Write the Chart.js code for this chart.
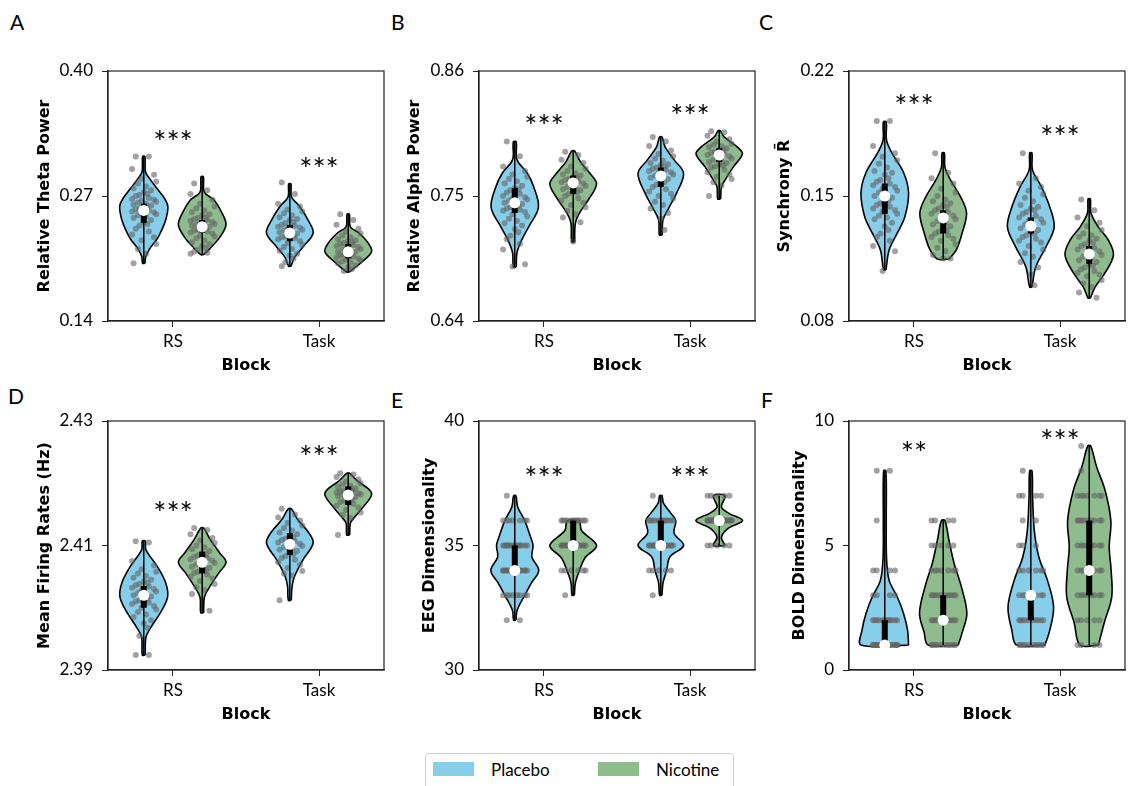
<!DOCTYPE html>
<html>
<head>
<meta charset="utf-8">
<script src="https://cdn.jsdelivr.net/npm/chart.js@4.4.1/dist/chart.umd.min.js"></script>
<style>
  body { margin: 0; background: #fff; }
  #wrap { position: relative; width: 1128px; height: 786px; overflow: hidden; font-family: Lato, "DejaVu Sans", sans-serif; color: #000; }
  canvas { position: absolute; }
  .tag { position: absolute; font-size: 21px; line-height: 1; }
  .patch { position: absolute; width: 41px; height: 14px; }
  .ltxt { position: absolute; font-size: 17px; line-height: 1; }
  #legend { position: absolute; left: 425px; top: 753px; width: 307px; height: 50px; border: 1px solid #d0d0d0; border-radius: 4px; }
</style>
</head>
<body>
<div id="wrap">
  <div class="tag" style="left:10px;top:11px">A</div>
  <div class="tag" style="left:391px;top:11px">B</div>
  <div class="tag" style="left:759px;top:11px">C</div>
  <div class="tag" style="left:8px;top:385px">D</div>
  <div class="tag" style="left:391px;top:389px">E</div>
  <div class="tag" style="left:761px;top:389px">F</div>
  <div id="legend"></div>
  <div class="patch" style="left:433px;top:762px;background:#87CEEB"></div>
  <div class="ltxt" style="left:491px;top:761px">Placebo</div>
  <div class="patch" style="left:598px;top:762px;background:#8FBC8F"></div>
  <div class="ltxt" style="left:656px;top:761px">Nicotine</div>
</div>
<script>
// ---- data ----
const categories = ['RS', 'Task'];
const groups = ['Placebo', 'Nicotine'];

// A: relative theta power
const thetaTicks = [0.14, 0.27, 0.40];
const thetaTickLabels = ['0.14', '0.27', '0.40'];
const thetaRsPlacebo = [0.311,0.311,0.298,0.292,0.288,0.285,0.283,0.280,0.278,0.276,0.274,0.272,0.271,0.270,0.268,0.267,0.266,0.265,0.264,0.263,0.262,0.261,0.260,0.259,0.258,0.257,0.256,0.255,0.254,0.253,0.252,0.251,0.250,0.249,0.247,0.245,0.243,0.241,0.239,0.236,0.233,0.230,0.227,0.224,0.220,0.215,0.210,0.200];
const thetaRsNicotine = [0.283,0.276,0.272,0.266,0.262,0.259,0.257,0.255,0.253,0.251,0.250,0.248,0.247,0.246,0.245,0.244,0.243,0.242,0.241,0.240,0.240,0.239,0.238,0.237,0.236,0.235,0.234,0.233,0.232,0.231,0.229,0.228,0.226,0.224,0.222,0.220,0.218,0.216,0.214,0.212,0.211,0.210];
const thetaTaskPlacebo = [0.284,0.272,0.262,0.259,0.256,0.254,0.252,0.250,0.248,0.246,0.245,0.243,0.242,0.240,0.239,0.238,0.237,0.236,0.235,0.234,0.233,0.232,0.231,0.230,0.229,0.228,0.227,0.226,0.225,0.223,0.221,0.219,0.217,0.215,0.213,0.210,0.208,0.205,0.201,0.197];
const thetaTaskNicotine = [0.251,0.245,0.240,0.236,0.233,0.231,0.229,0.227,0.225,0.224,0.223,0.222,0.221,0.220,0.219,0.218,0.217,0.216,0.215,0.214,0.213,0.212,0.212,0.211,0.210,0.209,0.208,0.207,0.206,0.205,0.204,0.203,0.202,0.201,0.200,0.198,0.196,0.194,0.192];
const thetaShapes = [
  [[0.200,0.008],[0.207,0.014],[0.215,0.04],[0.225,0.09],[0.232,0.115],[0.245,0.15],[0.259,0.165],[0.268,0.14],[0.277,0.095],[0.287,0.045],[0.295,0.012],[0.311,0.008]],
  [[0.209,0.01],[0.216,0.057],[0.227,0.12],[0.240,0.163],[0.252,0.137],[0.266,0.08],[0.274,0.015],[0.290,0.008]],
  [[0.197,0.008],[0.2065,0.034],[0.217,0.09],[0.2315,0.16],[0.245,0.125],[0.259,0.068],[0.269,0.012],[0.2825,0.008]],
  [[0.191,0.01],[0.201,0.09],[0.212,0.16],[0.221,0.137],[0.2315,0.074],[0.238,0.015],[0.251,0.008]]
];
const thetaBoxes = [[0.200,0.242,0.255,0.262,0.311],[0.209,0.232,0.238,0.245,0.290],[0.197,0.223,0.2315,0.240,0.2825],[0.191,0.205,0.212,0.220,0.251]];
const thetaStars = [0.332, 0.304];
const thetaStarText = ['***', '***'];

// B: relative alpha power
const alphaTicks = [0.64, 0.75, 0.86];
const alphaTickLabels = ['0.64', '0.75', '0.86'];
const alphaRsPlacebo = [0.798,0.785,0.776,0.772,0.769,0.767,0.765,0.763,0.761,0.759,0.757,0.756,0.755,0.753,0.752,0.750,0.749,0.748,0.747,0.746,0.745,0.744,0.743,0.742,0.741,0.740,0.739,0.738,0.737,0.736,0.734,0.732,0.730,0.728,0.726,0.724,0.721,0.718,0.715,0.712,0.708,0.703,0.690,0.688];
const alphaRsNicotine = [0.789,0.786,0.782,0.779,0.776,0.774,0.772,0.770,0.769,0.768,0.767,0.766,0.765,0.764,0.763,0.762,0.761,0.760,0.759,0.758,0.757,0.756,0.755,0.754,0.753,0.752,0.750,0.748,0.746,0.744,0.742,0.740,0.737,0.734,0.731,0.727,0.710];
const alphaTaskPlacebo = [0.802,0.798,0.794,0.790,0.787,0.785,0.783,0.781,0.779,0.778,0.777,0.776,0.775,0.774,0.773,0.772,0.771,0.770,0.769,0.768,0.767,0.766,0.765,0.764,0.762,0.760,0.758,0.756,0.754,0.752,0.750,0.748,0.745,0.742,0.739,0.735,0.730,0.720];
const alphaTaskNicotine = [0.807,0.806,0.803,0.800,0.798,0.796,0.795,0.794,0.793,0.792,0.791,0.790,0.789,0.788,0.787,0.786,0.785,0.784,0.783,0.782,0.781,0.780,0.779,0.778,0.777,0.776,0.775,0.773,0.771,0.769,0.767,0.765,0.762,0.759,0.750];
const alphaShapes = [
  [[0.6875,0.01],[0.700,0.015],[0.711,0.046],[0.723,0.096],[0.740,0.162],[0.758,0.13],[0.770,0.086],[0.782,0.015],[0.7976,0.01]],
  [[0.7096,0.01],[0.726,0.015],[0.735,0.043],[0.7465,0.103],[0.7606,0.16],[0.770,0.114],[0.780,0.05],[0.7896,0.01]],
  [[0.7157,0.01],[0.729,0.015],[0.740,0.057],[0.7525,0.108],[0.770,0.156],[0.782,0.09],[0.793,0.03],[0.802,0.008]],
  [[0.7474,0.01],[0.758,0.015],[0.764,0.04],[0.7756,0.097],[0.787,0.159],[0.793,0.125],[0.802,0.034],[0.8073,0.008]]
];
const alphaBoxes = [[0.6875,0.735,0.744,0.757,0.7976],[0.7096,0.752,0.7615,0.768,0.7896],[0.7157,0.758,0.7676,0.775,0.802],[0.7474,0.780,0.786,0.792,0.8073]];
const alphaStars = [0.817, 0.826];
const alphaStarText = ['***', '***'];

// C: synchrony
const syncTicks = [0.08, 0.15, 0.22];
const syncTickLabels = ['0.08', '0.15', '0.22'];
const syncRsPlacebo = [0.192,0.192,0.178,0.174,0.172,0.170,0.168,0.166,0.164,0.163,0.162,0.160,0.159,0.158,0.157,0.156,0.155,0.154,0.153,0.152,0.151,0.150,0.149,0.148,0.147,0.146,0.145,0.144,0.143,0.142,0.141,0.140,0.139,0.138,0.137,0.135,0.133,0.131,0.129,0.127,0.125,0.122,0.119,0.108];
const syncRsNicotine = [0.174,0.163,0.160,0.157,0.154,0.152,0.150,0.148,0.147,0.146,0.145,0.144,0.143,0.142,0.141,0.140,0.139,0.138,0.137,0.136,0.135,0.134,0.133,0.132,0.131,0.130,0.129,0.128,0.127,0.126,0.125,0.123,0.121,0.119,0.117,0.115,0.115];
const syncTaskPlacebo = [0.174,0.160,0.157,0.155,0.153,0.151,0.149,0.147,0.145,0.144,0.143,0.142,0.141,0.140,0.139,0.138,0.137,0.136,0.135,0.134,0.133,0.132,0.131,0.130,0.129,0.128,0.127,0.126,0.125,0.124,0.122,0.120,0.118,0.116,0.113,0.110,0.106,0.100];
const syncTaskNicotine = [0.148,0.142,0.138,0.135,0.133,0.131,0.129,0.128,0.127,0.126,0.125,0.124,0.123,0.122,0.121,0.120,0.119,0.118,0.117,0.116,0.115,0.114,0.113,0.112,0.111,0.110,0.109,0.108,0.107,0.106,0.105,0.103,0.101,0.099,0.096,0.093];
const syncShapes = [
  [[0.1086,0.008],[0.1198,0.03],[0.1293,0.086],[0.1382,0.137],[0.1517,0.163],[0.1629,0.13],[0.174,0.05],[0.1813,0.012],[0.1914,0.01]],
  [[0.1147,0.04],[0.1198,0.09],[0.1293,0.13],[0.1405,0.16],[0.1494,0.12],[0.159,0.05],[0.1662,0.012],[0.174,0.008]],
  [[0.099,0.008],[0.1102,0.034],[0.1214,0.103],[0.1326,0.16],[0.1438,0.13],[0.155,0.074],[0.1645,0.012],[0.174,0.008]],
  [[0.0929,0.008],[0.099,0.04],[0.1069,0.108],[0.117,0.166],[0.1254,0.13],[0.1326,0.063],[0.1405,0.012],[0.1483,0.008]]
];
const syncBoxes = [[0.1086,0.140,0.150,0.157,0.1914],[0.1147,0.129,0.1377,0.142,0.174],[0.099,0.129,0.1332,0.138,0.174],[0.0929,0.112,0.1175,0.122,0.1483]];
const syncStars = [0.2037, 0.1864];
const syncStarText = ['***', '***'];

// D: mean firing rates
const rateTicks = [2.39, 2.41, 2.43];
const rateTickLabels = ['2.39', '2.41', '2.43'];
const rateRsPlacebo = [2.4107,2.4105,2.4075,2.4068,2.4062,2.4058,2.4055,2.4051,2.4048,2.4045,2.4042,2.4040,2.4038,2.4036,2.4034,2.4032,2.4030,2.4028,2.4026,2.4024,2.4022,2.4020,2.4018,2.4016,2.4014,2.4012,2.4010,2.4008,2.4006,2.4003,2.4000,2.3997,2.3993,2.3989,2.3985,2.3980,2.3975,2.3968,2.3955,2.3924,2.3924];
const rateRsNicotine = [2.4128,2.4125,2.4118,2.4112,2.4108,2.4104,2.4100,2.4097,2.4094,2.4091,2.4088,2.4086,2.4084,2.4082,2.4080,2.4078,2.4076,2.4074,2.4072,2.4070,2.4068,2.4066,2.4064,2.4062,2.4060,2.4058,2.4056,2.4053,2.4050,2.4047,2.4043,2.4038,2.4033,2.4028,2.4022,2.3995];
const rateTaskPlacebo = [2.4159,2.4150,2.4145,2.4140,2.4136,2.4132,2.4128,2.4124,2.4121,2.4118,2.4115,2.4113,2.4111,2.4109,2.4107,2.4105,2.4103,2.4101,2.4099,2.4097,2.4095,2.4093,2.4091,2.4089,2.4086,2.4083,2.4080,2.4077,2.4073,2.4069,2.4064,2.4059,2.4055,2.4052,2.4012];
const rateTaskNicotine = [2.4216,2.4214,2.4210,2.4206,2.4203,2.4200,2.4198,2.4196,2.4194,2.4192,2.4190,2.4189,2.4188,2.4187,2.4186,2.4185,2.4184,2.4183,2.4182,2.4181,2.4180,2.4179,2.4178,2.4176,2.4174,2.4172,2.4170,2.4167,2.4164,2.4161,2.4157,2.4153,2.4149,2.4144,2.4117];
const rateShapes = [
  [[2.3924,0.01],[2.3953,0.015],[2.3969,0.05],[2.3992,0.114],[2.4017,0.163],[2.404,0.15],[2.4065,0.096],[2.4093,0.015],[2.4107,0.01]],
  [[2.3992,0.01],[2.4017,0.015],[2.4033,0.05],[2.4056,0.114],[2.4073,0.163],[2.4088,0.12],[2.4109,0.057],[2.4128,0.01]],
  [[2.4012,0.01],[2.4033,0.015],[2.4049,0.03],[2.4077,0.09],[2.4104,0.16],[2.4122,0.125],[2.4141,0.057],[2.4159,0.01]],
  [[2.4117,0.01],[2.4136,0.015],[2.4146,0.046],[2.4162,0.103],[2.4184,0.16],[2.4205,0.057],[2.4216,0.01]]
];
const rateBoxes = [[2.3924,2.400,2.402,2.4035,2.4107],[2.3992,2.4055,2.4073,2.409,2.4128],[2.4012,2.4085,2.4102,2.412,2.4159],[2.4117,2.4165,2.4181,2.4195,2.4216]];
const rateStars = [2.4162, 2.4252];
const rateStarText = ['***', '***'];

// E: EEG dimensionality (integer values, counts per level)
const eegTicks = [30, 35, 40];
const eegTickLabels = ['30', '35', '40'];
const eegLevels = [32, 33, 34, 35, 36, 37];
const eegRsPlacebo = [2, 8, 18, 14, 7, 1];
const eegRsNicotine = [0, 1, 6, 18, 12, 0];
const eegTaskPlacebo = [0, 1, 5, 18, 12, 1];
const eegTaskNicotine = [0, 0, 0, 5, 25, 5];
const eegShapes = [
  [[32,0.008],[32.4,0.016],[33,0.068],[33.5,0.114],[34,0.164],[34.54,0.117],[35,0.125],[35.34,0.108],[36,0.068],[36.55,0.02],[37,0.008]],
  [[33,0.008],[33.5,0.015],[34,0.043],[34.5,0.08],[35,0.16],[35.6,0.057],[36,0.04]],
  [[33,0.008],[33.5,0.015],[34,0.04],[34.54,0.062],[35,0.156],[35.5,0.09],[36,0.103],[36.3,0.068],[36.7,0.018],[37,0.008]],
  [[35,0.04],[35.34,0.015],[35.7,0.063],[36,0.16],[36.3,0.063],[36.55,0.015],[37,0.04]]
];
const eegBoxes = [[32,34,34,35,37],[33,35,35,36,36],[33,35,35,36,37],[35,36,36,36,37]];
const eegStars = [37.95, 37.95];
const eegStarText = ['***', '***'];

// F: BOLD dimensionality (integer values, counts per level)
const boldTicks = [0, 5, 10];
const boldTickLabels = ['0', '5', '10'];
const boldLevels = [1, 2, 3, 4, 5, 6, 7, 8, 9];
const boldRsPlacebo = [20, 12, 4, 4, 0, 1, 0, 2, 0];
const boldRsNicotine = [10, 12, 10, 7, 5, 4, 0, 0, 0];
const boldTaskPlacebo = [10, 10, 8, 6, 3, 2, 4, 1, 0];
const boldTaskNicotine = [4, 5, 8, 8, 8, 9, 7, 1, 1];
const boldShapes = [
  [[1,0.163],[1.6,0.156],[2.28,0.128],[2.93,0.086],[3.6,0.03],[4.5,0.012],[6,0.01],[8,0.008]],
  [[1,0.103],[1.5,0.13],[2.28,0.162],[3.33,0.125],[4.3,0.074],[5.2,0.04],[6,0.012]],
  [[1,0.097],[1.6,0.13],[2.53,0.156],[3.6,0.114],[4.54,0.055],[5.6,0.024],[7,0.012],[8,0.008]],
  [[1,0.063],[1.9,0.103],[2.93,0.154],[4,0.15],[4.94,0.137],[6,0.148],[7.23,0.108],[8.15,0.051],[9,0.01]]
];
const boldBoxes = [[1,1,1,2,8],[1,2,2,3,6],[1,2,3,3,8],[1,3,4,6,9]];
const boldStars = [8.96, 9.44];
const boldStarText = ['**', '***'];

// ---- drawing ----
Chart.defaults.font.family = 'Lato, "DejaVu Sans", sans-serif';
Chart.defaults.font.size = 17;
Chart.defaults.color = '#000';

const HUE = [-0.2, 0.2];
const FILLS = ['#87CEEB', '#8FBC8F'];
const TITLE_FONT = {family: '"DejaVu Sans", sans-serif', weight: 'bold', size: 16};
// fixed strip-plot jitter pattern (horizontal offsets only)
const JITTER = [-0.055, 0.035, -0.08, 0.07, -0.015, 0.085, -0.04, 0.015, -0.07, 0.05, 0.0, 0.025, -0.03];

function violinPath(shape, c) {
  const right = shape.map(([v, w]) => ({x: c + w, y: v}));
  const left = shape.slice().reverse().map(([v, w]) => ({x: c - w, y: v}));
  return right.concat(left, [right[0]]);
}
function stripPoints(values, c) {
  return values.map((v, i) => ({x: c + JITTER[i % JITTER.length], y: v}));
}
function countPoints(levels, counts, c) {
  const out = [];
  levels.forEach((lv, j) => {
    for (let i = 0; i < counts[j]; i++) out.push({x: c + JITTER[i % JITTER.length], y: lv});
  });
  return out;
}

const frame = {
  id: 'frame',
  afterDatasetsDraw(chart) {
    const {ctx, chartArea: a} = chart;
    ctx.save();
    ctx.strokeStyle = '#222';
    ctx.lineWidth = 1.2;
    ctx.strokeRect(a.left, a.top, a.right - a.left, a.bottom - a.top);
    ctx.restore();
  }
};
const stars = {
  id: 'stars',
  afterDraw(chart, args, opts) {
    const {ctx, scales} = chart;
    ctx.save();
    ctx.font = '31px Lato, "DejaVu Sans", sans-serif';
    ctx.textAlign = 'center';
    ctx.textBaseline = 'alphabetic';
    ctx.fillStyle = '#000';
    opts.values.forEach((v, i) => {
      ctx.fillText(opts.labels[i], scales.x.getPixelForValue(i), scales.y.getPixelForValue(v) + 17);
    });
    ctx.restore();
  }
};

const panels = [
  {box: [108, 71, 276, 250], gap: 63, title: 'Relative Theta Power', ticks: thetaTicks, labels: thetaTickLabels,
   pts: [thetaRsPlacebo, thetaRsNicotine, thetaTaskPlacebo, thetaTaskNicotine].map((d) => (c) => stripPoints(d, c)),
   shapes: thetaShapes, boxes: thetaBoxes, stars: thetaStars, starText: thetaStarText},
  {box: [479, 71, 276, 250], gap: 64, title: 'Relative Alpha Power', ticks: alphaTicks, labels: alphaTickLabels,
   pts: [alphaRsPlacebo, alphaRsNicotine, alphaTaskPlacebo, alphaTaskNicotine].map((d) => (c) => stripPoints(d, c)),
   shapes: alphaShapes, boxes: alphaBoxes, stars: alphaStars, starText: alphaStarText},
  {box: [849, 71, 276, 250], gap: 64, title: 'Synchrony R\u0304', ticks: syncTicks, labels: syncTickLabels,
   pts: [syncRsPlacebo, syncRsNicotine, syncTaskPlacebo, syncTaskNicotine].map((d) => (c) => stripPoints(d, c)),
   shapes: syncShapes, boxes: syncBoxes, stars: syncStars, starText: syncStarText},
  {box: [108, 421, 276, 249], gap: 63, title: 'Mean Firing Rates (Hz)', ticks: rateTicks, labels: rateTickLabels,
   pts: [rateRsPlacebo, rateRsNicotine, rateTaskPlacebo, rateTaskNicotine].map((d) => (c) => stripPoints(d, c)),
   shapes: rateShapes, boxes: rateBoxes, stars: rateStars, starText: rateStarText},
  {box: [479, 421, 276, 249], gap: 49, title: 'EEG Dimensionality', ticks: eegTicks, labels: eegTickLabels,
   pts: [eegRsPlacebo, eegRsNicotine, eegTaskPlacebo, eegTaskNicotine].map((d) => (c) => countPoints(eegLevels, d, c)),
   shapes: eegShapes, boxes: eegBoxes, stars: eegStars, starText: eegStarText},
  {box: [849, 421, 276, 249], gap: 49, title: 'BOLD Dimensionality', ticks: boldTicks, labels: boldTickLabels,
   pts: [boldRsPlacebo, boldRsNicotine, boldTaskPlacebo, boldTaskNicotine].map((d) => (c) => countPoints(boldLevels, d, c)),
   shapes: boldShapes, boxes: boldBoxes, stars: boldStars, starText: boldStarText}
];

const wrap = document.getElementById('wrap');
panels.forEach((p) => {
  const [L, T, W, H] = p.box;
  const cv = document.createElement('canvas');
  cv.width = W + 110;
  cv.height = H + 110;
  cv.style.left = (L - 100) + 'px';
  cv.style.top = (T - 30) + 'px';
  wrap.appendChild(cv);

  const wy = p.gap + 9.6;
  const hx = 45 + 9.6;
  const datasets = [];
  for (let k = 0; k < 4; k++) {
    const c = Math.floor(k / 2) + HUE[k % 2];
    const [lo, q1, med, q3, hi] = p.boxes[k];
    datasets.push({label: groups[k % 2], data: violinPath(p.shapes[k], c), showLine: true, fill: 'shape',
      backgroundColor: FILLS[k % 2], borderColor: '#000', borderWidth: 1.6, borderJoinStyle: 'round',
      pointRadius: 0, tension: 0.35, order: 5});
    datasets.push({data: p.pts[k](c), pointRadius: 3, pointBorderWidth: 0,
      pointBackgroundColor: 'rgba(100,100,100,0.6)', order: 4});
    datasets.push({data: [{x: c, y: lo}, {x: c, y: hi}], showLine: true, borderColor: '#000',
      borderWidth: 1.5, pointRadius: 0, order: 3});
    datasets.push({data: [{x: c, y: q1}, {x: c, y: q3}], showLine: true, borderColor: '#000',
      borderWidth: 6, borderCapStyle: 'butt', pointRadius: 0, order: 2});
    datasets.push({data: [{x: c, y: med}], pointRadius: 5.5, pointBorderWidth: 0,
      pointBackgroundColor: '#fff', order: 1});
  }

  new Chart(cv, {
    type: 'scatter',
    data: {datasets},
    plugins: [frame, stars],
    options: {
      responsive: false,
      animation: false,
      events: [],
      layout: {padding: {left: 100 - wy, top: 30, right: 10, bottom: 80 - hx}},
      plugins: {
        legend: {display: false},
        tooltip: {enabled: false},
        stars: {values: p.stars, labels: p.starText}
      },
      scales: {
        x: {
          type: 'linear', min: -0.445, max: 1.445,
          afterBuildTicks: (s) => { s.ticks = categories.map((_, i) => ({value: i})); },
          afterFit: (s) => { s.height = hx; },
          ticks: {callback: (v, i) => categories[i], padding: 4, maxRotation: 0, autoSkip: false},
          grid: {display: true, drawOnChartArea: false, drawTicks: true, tickLength: 6, tickColor: '#222'},
          border: {display: true, color: '#222', width: 1.2},
          title: {display: true, text: 'Block', padding: 0, font: TITLE_FONT}
        },
        y: {
          type: 'linear', min: p.ticks[0], max: p.ticks[p.ticks.length - 1],
          afterBuildTicks: (s) => { s.ticks = p.ticks.map((v) => ({value: v})); },
          afterFit: (s) => { s.width = wy; },
          ticks: {callback: (v, i) => p.labels[i], padding: 9},
          grid: {display: true, drawOnChartArea: false, drawTicks: true, tickLength: 6, tickColor: '#222'},
          border: {display: true, color: '#222', width: 1.2},
          title: {display: true, text: p.title, padding: 0, font: TITLE_FONT}
        }
      }
    }
  });
});
</script>
</body>
</html>
